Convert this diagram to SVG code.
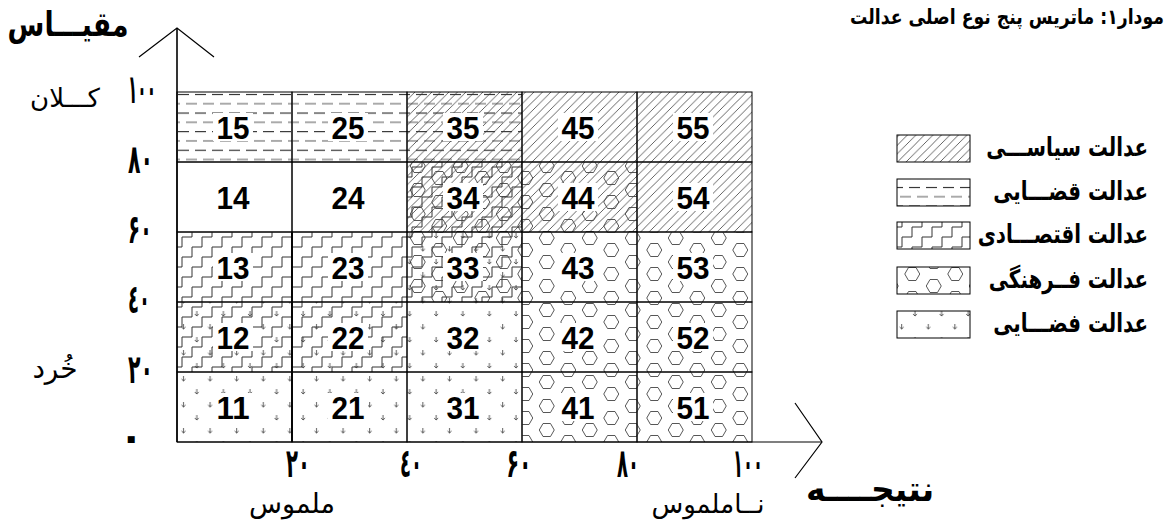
<svg xmlns="http://www.w3.org/2000/svg" width="1165" height="525" viewBox="0 0 1165 525">
<style>
.fa{font-family:"DejaVu Sans",sans-serif;fill:#000}
.b{font-weight:bold}
.dg{font-family:"DejaVu Sans",sans-serif;font-weight:bold;font-size:40px;fill:#000}
.num{font-family:"Liberation Sans",Arial,sans-serif;font-weight:bold;font-size:32px;text-anchor:middle;fill:#000}
.bd{fill:none;stroke:#000;stroke-width:1}
.ln{fill:none;stroke:#000;stroke-width:1.2}
.bg{fill:#fff}
.lg{fill:none;stroke:#000;stroke-width:1}
.lt{font-family:"DejaVu Sans",sans-serif;font-weight:bold;font-size:19.8px;text-anchor:end;fill:#000}
</style>
<defs>
<pattern id="pol" patternUnits="userSpaceOnUse" x="177" y="92" width="8.5" height="8.5">
<path d="M-1,1 L1,-1 M0,8.5 L8.5,0 M7.5,9.5 L9.5,7.5" stroke="#333" stroke-width="0.75"/>
</pattern>
<pattern id="jud" patternUnits="userSpaceOnUse" x="177" y="90" width="17" height="18.6">
<path d="M1,4.5 H12" stroke="#111" stroke-width="1"/>
<path d="M-8,13.8 H3 M9,13.8 H20" stroke="#555" stroke-width="1"/>
</pattern>
<pattern id="eco" patternUnits="userSpaceOnUse" x="177" y="232" width="20" height="20">
<path d="M0,15 H5 V5 H15 V0 M15,20 V15 H20" fill="none" stroke="#333" stroke-width="1"/>
</pattern>
<pattern id="cul" patternUnits="userSpaceOnUse" x="407" y="232" width="43" height="24">
<path d="M3.25,6 L7,-0.5 H14.5 L18.25,6 L14.5,12.5 H7 Z M24.75,18 L28.5,11.5 H36 L39.75,18 L36,24.5 H28.5 Z M24.75,-6 L28.5,-12.5 H36 L39.75,-6 L36,0.5 H28.5 Z M3.25,30 L7,23.5 H14.5 L18.25,30 L14.5,36.5 H7 Z" fill="none" stroke="#444" stroke-width="0.9"/>
</pattern>
<pattern id="spa" patternUnits="userSpaceOnUse" x="177" y="372" width="26.6" height="26">
<path d="M6.5,4 V9 M4.5,7 L6.5,9 L8.5,7 M19.8,17 V22 M17.8,20 L19.8,22 L21.8,20" stroke="#333" stroke-width="0.8" fill="none"/>
</pattern>
</defs>
<rect width="1165" height="525" fill="#fff"/>

<!-- title -->
<text class="fa b" transform="translate(1164,24) scale(1,1.2)" font-size="17.3" text-anchor="end">مودار۱: ماتریس پنج نوع اصلی عدالت</text>

<!-- cells -->
<g id="cell15"><rect x="177" y="92" width="115" height="70" fill="url(#jud)"/><rect class="bg" x="213" y="113" width="40" height="28"/><text class="num" x="233" y="139" textLength="33" lengthAdjust="spacingAndGlyphs">15</text><rect class="bd" x="177" y="92" width="115" height="70"/></g>
<g id="cell25"><rect x="292" y="92" width="115" height="70" fill="url(#jud)"/><rect class="bg" x="328" y="113" width="40" height="28"/><text class="num" x="348" y="139" textLength="33" lengthAdjust="spacingAndGlyphs">25</text><rect class="bd" x="292" y="92" width="115" height="70"/></g>
<g id="cell35"><rect x="407" y="92" width="115" height="70" fill="url(#jud)"/><rect x="407" y="92" width="115" height="70" fill="url(#pol)"/><rect class="bg" x="443" y="113" width="40" height="28"/><text class="num" x="463" y="139" textLength="33" lengthAdjust="spacingAndGlyphs">35</text><rect class="bd" x="407" y="92" width="115" height="70"/></g>
<g id="cell45"><rect x="522" y="92" width="115" height="70" fill="url(#pol)"/><rect class="bg" x="558" y="113" width="40" height="28"/><text class="num" x="578" y="139" textLength="33" lengthAdjust="spacingAndGlyphs">45</text><rect class="bd" x="522" y="92" width="115" height="70"/></g>
<g id="cell55"><rect x="637" y="92" width="115" height="70" fill="url(#pol)"/><rect class="bg" x="673" y="113" width="40" height="28"/><text class="num" x="693" y="139" textLength="33" lengthAdjust="spacingAndGlyphs">55</text><rect class="bd" x="637" y="92" width="115" height="70"/></g>

<g id="cell14"><text class="num" x="233" y="209" textLength="33" lengthAdjust="spacingAndGlyphs">14</text><rect class="bd" x="177" y="162" width="115" height="70"/></g>
<g id="cell24"><text class="num" x="348" y="209" textLength="33" lengthAdjust="spacingAndGlyphs">24</text><rect class="bd" x="292" y="162" width="115" height="70"/></g>
<g id="cell34"><rect x="407" y="162" width="115" height="70" fill="url(#pol)"/><rect x="407" y="162" width="115" height="70" fill="url(#eco)"/><rect x="407" y="162" width="115" height="70" fill="url(#cul)"/><rect class="bg" x="443" y="183" width="40" height="28"/><text class="num" x="463" y="209" textLength="33" lengthAdjust="spacingAndGlyphs">34</text><rect class="bd" x="407" y="162" width="115" height="70"/></g>
<g id="cell44"><rect x="522" y="162" width="115" height="70" fill="url(#pol)"/><rect x="522" y="162" width="115" height="70" fill="url(#cul)"/><rect class="bg" x="558" y="183" width="40" height="28"/><text class="num" x="578" y="209" textLength="33" lengthAdjust="spacingAndGlyphs">44</text><rect class="bd" x="522" y="162" width="115" height="70"/></g>
<g id="cell54"><rect x="637" y="162" width="115" height="70" fill="url(#pol)"/><rect class="bg" x="673" y="183" width="40" height="28"/><text class="num" x="693" y="209" textLength="33" lengthAdjust="spacingAndGlyphs">54</text><rect class="bd" x="637" y="162" width="115" height="70"/></g>

<g id="cell13"><rect x="177" y="232" width="115" height="70" fill="url(#eco)"/><rect class="bg" x="213" y="253" width="40" height="28"/><text class="num" x="233" y="279" textLength="33" lengthAdjust="spacingAndGlyphs">13</text><rect class="bd" x="177" y="232" width="115" height="70"/></g>
<g id="cell23"><rect x="292" y="232" width="115" height="70" fill="url(#eco)"/><rect class="bg" x="328" y="253" width="40" height="28"/><text class="num" x="348" y="279" textLength="33" lengthAdjust="spacingAndGlyphs">23</text><rect class="bd" x="292" y="232" width="115" height="70"/></g>
<g id="cell33"><rect x="407" y="232" width="115" height="70" fill="url(#eco)"/><rect x="407" y="232" width="115" height="70" fill="url(#cul)"/><rect x="407" y="232" width="115" height="70" fill="url(#spa)"/><rect class="bg" x="443" y="253" width="40" height="28"/><text class="num" x="463" y="279" textLength="33" lengthAdjust="spacingAndGlyphs">33</text><rect class="bd" x="407" y="232" width="115" height="70"/></g>
<g id="cell43"><rect x="522" y="232" width="115" height="70" fill="url(#cul)"/><rect class="bg" x="558" y="253" width="40" height="28"/><text class="num" x="578" y="279" textLength="33" lengthAdjust="spacingAndGlyphs">43</text><rect class="bd" x="522" y="232" width="115" height="70"/></g>
<g id="cell53"><rect x="637" y="232" width="115" height="70" fill="url(#cul)"/><rect class="bg" x="673" y="253" width="40" height="28"/><text class="num" x="693" y="279" textLength="33" lengthAdjust="spacingAndGlyphs">53</text><rect class="bd" x="637" y="232" width="115" height="70"/></g>

<g id="cell12"><rect x="177" y="302" width="115" height="70" fill="url(#eco)"/><rect x="177" y="302" width="115" height="70" fill="url(#spa)"/><rect class="bg" x="213" y="323" width="40" height="28"/><text class="num" x="233" y="349" textLength="33" lengthAdjust="spacingAndGlyphs">12</text><rect class="bd" x="177" y="302" width="115" height="70"/></g>
<g id="cell22"><rect x="292" y="302" width="115" height="70" fill="url(#eco)"/><rect x="292" y="302" width="115" height="70" fill="url(#spa)"/><rect class="bg" x="328" y="323" width="40" height="28"/><text class="num" x="348" y="349" textLength="33" lengthAdjust="spacingAndGlyphs">22</text><rect class="bd" x="292" y="302" width="115" height="70"/></g>
<g id="cell32"><rect x="407" y="302" width="115" height="70" fill="url(#spa)"/><rect class="bg" x="443" y="323" width="40" height="28"/><text class="num" x="463" y="349" textLength="33" lengthAdjust="spacingAndGlyphs">32</text><rect class="bd" x="407" y="302" width="115" height="70"/></g>
<g id="cell42"><rect x="522" y="302" width="115" height="70" fill="url(#cul)"/><rect class="bg" x="558" y="323" width="40" height="28"/><text class="num" x="578" y="349" textLength="33" lengthAdjust="spacingAndGlyphs">42</text><rect class="bd" x="522" y="302" width="115" height="70"/></g>
<g id="cell52"><rect x="637" y="302" width="115" height="70" fill="url(#cul)"/><rect class="bg" x="673" y="323" width="40" height="28"/><text class="num" x="693" y="349" textLength="33" lengthAdjust="spacingAndGlyphs">52</text><rect class="bd" x="637" y="302" width="115" height="70"/></g>

<g id="cell11"><rect x="177" y="372" width="115" height="70" fill="url(#spa)"/><rect class="bg" x="213" y="393" width="40" height="28"/><text class="num" x="233" y="419" textLength="33" lengthAdjust="spacingAndGlyphs">11</text><rect class="bd" x="177" y="372" width="115" height="70"/></g>
<g id="cell21"><rect x="292" y="372" width="115" height="70" fill="url(#spa)"/><rect class="bg" x="328" y="393" width="40" height="28"/><text class="num" x="348" y="419" textLength="33" lengthAdjust="spacingAndGlyphs">21</text><rect class="bd" x="292" y="372" width="115" height="70"/></g>
<g id="cell31"><rect x="407" y="372" width="115" height="70" fill="url(#spa)"/><rect class="bg" x="443" y="393" width="40" height="28"/><text class="num" x="463" y="419" textLength="33" lengthAdjust="spacingAndGlyphs">31</text><rect class="bd" x="407" y="372" width="115" height="70"/></g>
<g id="cell41"><rect x="522" y="372" width="115" height="70" fill="url(#cul)"/><rect class="bg" x="558" y="393" width="40" height="28"/><text class="num" x="578" y="419" textLength="33" lengthAdjust="spacingAndGlyphs">41</text><rect class="bd" x="522" y="372" width="115" height="70"/></g>
<g id="cell51"><rect x="637" y="372" width="115" height="70" fill="url(#cul)"/><rect class="bg" x="673" y="393" width="40" height="28"/><text class="num" x="693" y="419" textLength="33" lengthAdjust="spacingAndGlyphs">51</text><rect class="bd" x="637" y="372" width="115" height="70"/></g>

<!-- axes -->
<g id="connectors">
<path d="M292,232 V442" fill="none" stroke="#000" stroke-width="1.8"/>
<path d="M177,442 V28" fill="none" stroke="#000" stroke-width="1.6"/>
<path d="M139,57 L177,28 L214,57" class="ln"/>
<path d="M177,442 H822" class="ln"/>
<path d="M795,403 L822,442 L795,478" class="ln"/>
</g>

<!-- axis labels -->
<g id="y-labels">
<text class="fa b" transform="translate(68,36) scale(0.89,1.12)" font-size="30" text-anchor="middle">مقیـــاس</text>
<text class="fa" x="65" y="107" font-size="26" text-anchor="middle">کـــلان</text>
<text class="fa" x="55" y="378" font-size="28" text-anchor="middle">خُرد</text>
<text class="dg" x="128" y="103" textLength="28" lengthAdjust="spacingAndGlyphs">۱۰۰</text>
<text class="dg" x="128" y="173" textLength="25" lengthAdjust="spacingAndGlyphs">۸۰</text>
<text class="dg" x="128" y="243" textLength="24" lengthAdjust="spacingAndGlyphs">۶۰</text>
<text class="dg" x="128" y="313" textLength="22" lengthAdjust="spacingAndGlyphs">٤۰</text>
<text class="dg" x="128" y="383" textLength="25" lengthAdjust="spacingAndGlyphs">۲۰</text>
<text class="dg" x="119" y="451">۰</text>
</g>
<g id="x-labels">
<text class="dg" x="298" y="477" text-anchor="middle" textLength="24" lengthAdjust="spacingAndGlyphs">۲۰</text>
<text class="dg" x="411" y="477" text-anchor="middle" textLength="22" lengthAdjust="spacingAndGlyphs">٤۰</text>
<text class="dg" x="519" y="477" text-anchor="middle" textLength="25" lengthAdjust="spacingAndGlyphs">۶۰</text>
<text class="dg" x="628" y="477" text-anchor="middle" textLength="22" lengthAdjust="spacingAndGlyphs">۸۰</text>
<text class="dg" x="748" y="477" text-anchor="middle" textLength="30" lengthAdjust="spacingAndGlyphs">۱۰۰</text>
<text class="fa" x="292" y="513" font-size="27" text-anchor="middle">ملموس</text>
<text class="fa" x="708" y="513" font-size="26" text-anchor="middle">نــاملموس</text>
<text class="fa b" transform="translate(870,501) scale(1.1,1.15)" font-size="30" text-anchor="middle">نتیجــــه</text>
</g>

<!-- legend -->
<g id="legend-pol"><rect x="897" y="135" width="73" height="27" fill="url(#pol)"/><rect class="lg" x="897" y="135" width="73" height="27"/><text class="lt" transform="translate(1148,156) scale(1,1.3)">عدالت سیاســـی</text></g>
<g id="legend-jud"><rect x="897" y="179" width="73" height="27" fill="url(#jud)"/><rect class="lg" x="897" y="179" width="73" height="27"/><text class="lt" transform="translate(1148,200) scale(1,1.3)">عدالت قضـــایی</text></g>
<g id="legend-eco"><rect x="897" y="222" width="73" height="27" fill="url(#eco)"/><rect class="lg" x="897" y="222" width="73" height="27"/><text class="lt" transform="translate(1148,243) scale(1,1.3)">عدالت اقتصـــادی</text></g>
<g id="legend-cul"><rect x="897" y="267" width="73" height="27" fill="url(#cul)"/><rect class="lg" x="897" y="267" width="73" height="27"/><text class="lt" transform="translate(1148,288) scale(1,1.3)">عدالت فــرهنگی</text></g>
<g id="legend-spa"><rect x="897" y="311" width="73" height="27" fill="url(#spa)"/><rect class="lg" x="897" y="311" width="73" height="27"/><text class="lt" transform="translate(1148,332) scale(1,1.3)">عدالت فضـــایی</text></g>
</svg>
